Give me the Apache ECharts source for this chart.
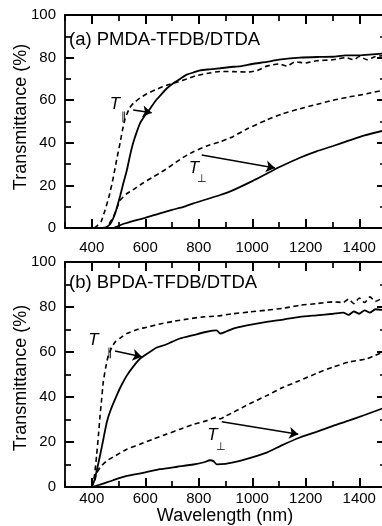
<!DOCTYPE html>
<html>
<head>
<meta charset="utf-8">
<script src="https://cdn.jsdelivr.net/npm/echarts@6/dist/echarts.min.js"></script>
<style>
  html, body { margin: 0; padding: 0; background: #fff; }
  #chart { width: 382px; height: 526px; }
</style>
</head>
<body>
<div id="chart"></div>
<script>
// tick labels
const xMajor = [400, 600, 800, 1000, 1200, 1400]

// (a) PMDA-TFDB/DTDA  [wavelength nm, transmittance %]
const aParSolid = [[440,0],[455,0.5],[470,2],[485,6],[495,10],[506,15],[518,21],[531,27],[543,34],[555,40],[568,45],[580,49],[600,53],[618,56],[640,60],[655,62],[680,65.5],[705,68],[730,70],[755,72],[780,73],[805,74],[840,74.5],[880,75],[929,75.7],[960,76],[1000,77],[1054,78],[1100,79],[1178,80],[1250,80.3],[1302,80.4],[1350,81],[1400,81],[1450,81.5],[1500,82]]
const aParDash = [[410,0],[420,1],[435,3],[450,8.5],[465,15],[481,24],[493,32],[506,40],[515,46],[524,51],[540,56],[555,58.5],[580,61],[606,63],[640,65],[680,67],[720,68.5],[755,70],[790,71.5],[830,72.5],[880,73.5],[929,73.4],[980,73.2],[1020,74],[1054,76],[1100,77],[1130,76],[1160,78],[1200,77.5],[1240,78.5],[1302,79],[1350,80],[1380,79],[1400,80.5],[1430,79],[1460,80.5],[1500,81]]
const aPerpDash = [[465,2],[480,5],[493,9],[506,13],[530,16],[555,18],[590,21],[630,24],[670,27],[705,30],[740,33],[780,35.8],[830,38.5],[880,40.5],[929,43],[980,46.5],[1054,50.7],[1110,53.5],[1178,56],[1240,58],[1302,60],[1360,61.5],[1428,63],[1500,65]]
const aPerpSolid = [[481,0],[520,2],[560,3.5],[600,4.8],[655,6.9],[700,8.5],[750,10.2],[780,11.6],[830,13.5],[880,15.5],[929,17.8],[1000,22],[1054,25.5],[1100,28.5],[1178,33],[1240,36],[1302,38.5],[1360,41],[1420,43.5],[1500,46]]

// (b) BPDA-TFDB/DTDA
const bParSolid = [[400,0],[410,3],[420,8],[431,14],[443,21],[456,28.7],[470,34],[493,40.6],[510,45],[531,49.5],[555,53.5],[580,57],[610,59.5],[643,62],[670,63],[700,64.5],[730,66],[780,67.5],[830,69],[867,69.6],[880,68.2],[900,69],[929,70.4],[980,71.8],[1054,73.4],[1120,74.5],[1178,75.6],[1240,76.3],[1302,77],[1340,77.5],[1360,76.5],[1380,78],[1400,77],[1420,78.5],[1440,77.5],[1460,79],[1500,78.5]]
const bParDash = [[400,0],[410,5],[418,13.8],[425,23],[431,31.7],[437,39],[443,46.6],[452,53],[462,58.5],[475,62],[487,64.4],[510,66.5],[531,68.2],[570,70],[606,71],[650,72.3],[705,73.6],[760,74.7],[817,75.6],[870,76],[929,77],[990,77.8],[1054,78.6],[1120,79.5],[1178,80.8],[1240,81.5],[1302,82.3],[1340,82],[1360,83.5],[1380,81.5],[1400,84],[1420,82],[1440,84.5],[1460,82.5],[1500,85]]
const bPerpDash = [[412,3],[418,6],[430,8.5],[456,11.6],[490,14],[531,16.8],[580,19],[630,21.3],[680,23.5],[730,25.7],[780,27.8],[830,29.5],[867,31],[880,30.3],[900,31.5],[929,33.2],[990,37],[1054,40.6],[1110,44],[1178,47.3],[1240,50.5],[1302,53.3],[1360,55.5],[1428,57],[1460,58.5],[1500,60.5]]
const bPerpSolid = [[400,0],[430,1],[480,3],[531,4.9],[600,6.5],[655,7.9],[720,9],[780,10],[820,11],[842,11.9],[855,11.5],[867,10.1],[900,10.3],[929,10.9],[980,12.5],[1054,15.3],[1110,18.5],[1178,22],[1240,24.5],[1302,27.2],[1360,29.5],[1420,32],[1500,35.5]]

const FONT = '"Liberation Sans", Arial, sans-serif'
const BLACK = '#000'

const chart = echarts.init(document.getElementById('chart'))

// main grids 0,1 ; overlay grids 2,3 carry the minor x ticks
// outerBoundsMode none: the right border sits just outside the picture, like the scan
const gridA = { left: 65, top: 15, width: 321, height: 213, outerBoundsMode: 'none', containLabel: false }
const gridB = { left: 65, top: 262, width: 321, height: 225, outerBoundsMode: 'none', containLabel: false }

function xMain(gridIndex, position, labelMargin) {
  return {
    type: 'value', gridIndex, position, min: 300, max: 1500, interval: 100,
    axisLine: { show: true, onZero: false, lineStyle: { color: BLACK, width: 1.8 } },
    axisTick: { show: true, inside: true, length: 9, customValues: xMajor, lineStyle: { color: BLACK, width: 2 } },
    axisLabel: {
      show: position === 'bottom', customValues: xMajor, margin: labelMargin,
      formatter: v => String(v),
      color: BLACK, fontSize: 15, fontFamily: FONT
    },
    splitLine: { show: false }
  }
}
function xMinor(gridIndex, position) {
  return {
    type: 'value', gridIndex, position, min: 300, max: 1500, interval: 100,
    axisLine: { show: false, onZero: false },
    axisTick: { show: true, inside: true, length: 6, lineStyle: { color: BLACK, width: 1.7 } },
    axisLabel: { show: false },
    splitLine: { show: false }
  }
}
function yMain(gridIndex, position) {
  return {
    type: 'value', gridIndex, position, min: 0, max: 100, interval: 20,
    axisLine: { show: true, onZero: false, lineStyle: { color: BLACK, width: 1.8 } },
    axisTick: { show: true, inside: true, length: 9, lineStyle: { color: BLACK, width: 2 } },
    minorTick: { show: true, splitNumber: 2, length: 6, lineStyle: { color: BLACK, width: 1.7 } },
    axisLabel: { show: position === 'left', margin: 9, color: BLACK, fontSize: 15, fontFamily: FONT },
    splitLine: { show: false },
    minorSplitLine: { show: false }
  }
}
function yHidden(gridIndex) {
  return { type: 'value', gridIndex, min: 0, max: 100, show: false }
}

function curve(data, xi, yi, dashed, extra) {
  return Object.assign({
    type: 'line', xAxisIndex: xi, yAxisIndex: yi, data,
    symbol: 'none', smooth: 0.2,
    lineStyle: { color: BLACK, width: dashed ? 1.6 : 1.8, type: dashed ? [5, 3.5] : 'solid' }
  }, extra || {})
}

function labelPoints(items) {
  return {
    symbol: 'rect', symbolSize: 1, itemStyle: { color: 'rgba(0,0,0,0)' },
    label: { show: true, position: 'inside', formatter: '{b}', color: BLACK, fontFamily: FONT },
    data: items.map(([name, coord, size, italic]) => ({
      name, coord,
      label: { fontSize: size, fontStyle: italic ? 'italic' : 'normal' }
    }))
  }
}
function arrows(pairs) {
  return {
    silent: true, symbol: ['none', 'arrow'], symbolSize: 9,
    label: { show: false },
    lineStyle: { color: BLACK, width: 1.5, type: 'solid' },
    data: pairs.map(([a, b]) => [{ coord: a }, { coord: b }])
  }
}

const option = {
  animation: false,
  backgroundColor: '#fff',
  grid: [gridA, gridB, Object.assign({}, gridA), Object.assign({}, gridB)],
  xAxis: [
    xMain(0, 'bottom', 12), xMain(0, 'top'),
    xMain(1, 'bottom', 4), xMain(1, 'top'),
    xMinor(2, 'bottom'), xMinor(2, 'top'),
    xMinor(3, 'bottom'), xMinor(3, 'top')
  ],
  yAxis: [
    yMain(0, 'left'), yMain(0, 'right'),
    yMain(1, 'left'), yMain(1, 'right'),
    yHidden(2), yHidden(3)
  ],
  graphic: [
    { type: 'text', x: 69, y: 40, style: { text: '(a) PMDA-TFDB/DTDA', font: '18.5px ' + FONT, fill: BLACK, verticalAlign: 'middle' } },
    { type: 'text', x: 69, y: 282.5, style: { text: '(b) BPDA-TFDB/DTDA', font: '18.5px ' + FONT, fill: BLACK, verticalAlign: 'middle' } },
    { type: 'text', x: 21, y: 117, rotation: Math.PI / 2, style: { text: 'Transmittance (%)', font: '18px ' + FONT, fill: BLACK, align: 'center', verticalAlign: 'middle' } },
    { type: 'text', x: 21, y: 378, rotation: Math.PI / 2, style: { text: 'Transmittance (%)', font: '18px ' + FONT, fill: BLACK, align: 'center', verticalAlign: 'middle' } },
    { type: 'text', x: 225, y: 516, style: { text: 'Wavelength (nm)', font: '18px ' + FONT, fill: BLACK, align: 'center', verticalAlign: 'middle' } }
  ],
  series: [
    curve(aParSolid, 0, 0, false, {
      markLine: arrows([[[555, 55.4], [624, 54.1]], [[811, 34.3], [1085, 28.2]]]),
      markPoint: labelPoints([
        ['T', [487, 58.2], 17, true], ['∥', [519, 52.1], 11, false],
        ['T', [782, 28.2], 17, true], ['⊥', [814, 23.2], 11, false]
      ])
    }),
    curve(aParDash, 0, 0, true),
    curve(aPerpDash, 0, 0, true),
    curve(aPerpSolid, 0, 0, false),
    curve(bParSolid, 2, 2, false, {
      markLine: arrows([[[487, 60.4], [587, 57.9]], [[886, 29], [1172, 23.4]]]),
      markPoint: labelPoints([
        ['T', [406, 65.3], 17, true], ['∥', [468, 59.4], 11, false],
        ['T', [851, 23.1], 17, true], ['⊥', [882, 17.9], 11, false]
      ])
    }),
    curve(bParDash, 2, 2, true),
    curve(bPerpDash, 2, 2, true),
    curve(bPerpSolid, 2, 2, false)
  ]
}

chart.setOption(option)
</script>
</body>
</html>
